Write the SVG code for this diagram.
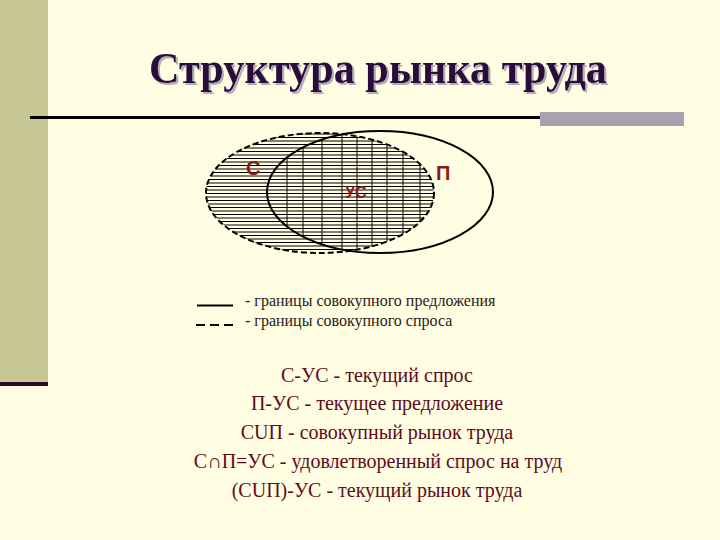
<svg xmlns="http://www.w3.org/2000/svg" width="720" height="540" viewBox="0 0 720 540">
<defs>
<style>
.title{font-family:"Liberation Serif","Times New Roman",serif;font-weight:bold;font-size:45px;text-anchor:middle;fill:#2a0a3a}
.lbl{font-family:"Liberation Sans",Arial,sans-serif;font-weight:bold;fill:#8b1a1a}
.leg{font-family:"Liberation Serif","Times New Roman",serif;font-size:16px;fill:#2a1a1a}
.def{font-family:"Liberation Serif","Times New Roman",serif;font-size:20px;fill:#5e0c1c;text-anchor:middle}
.hatch line{stroke:#000;stroke-width:1}
</style>
<filter id="shadow" x="-5%" y="-20%" width="110%" height="140%">
<feOffset in="SourceAlpha" dx="2" dy="2" result="off"/>
<feFlood flood-color="#b4acbc"/>
<feComposite in2="off" operator="in" result="sh"/>
<feMerge><feMergeNode in="sh"/><feMergeNode in="SourceGraphic"/></feMerge>
</filter>
<clipPath id="clipC"><ellipse cx="320" cy="193" rx="114" ry="60"/></clipPath>
<clipPath id="clipP"><ellipse cx="380" cy="192" rx="113" ry="61"/></clipPath>
</defs>
<rect x="0" y="0" width="720" height="540" fill="#fffde2"/>
<rect x="0" y="0" width="48" height="382" fill="#c8c896"/>
<rect x="0" y="382" width="48" height="4" fill="#2a0a28"/>
<text class="title" transform="translate(378,83) scale(0.94,1)" x="0" y="0" filter="url(#shadow)">Структура рынка труда</text>
<line x1="30" y1="117.5" x2="684" y2="117.5" stroke="#000" stroke-width="3"/>
<rect x="540" y="112" width="144" height="14" fill="#aaa0b0"/>
<g id="hatching">
<g class="hatch" clip-path="url(#clipC)">
<line x1="200" y1="134" x2="440" y2="134"/><line x1="200" y1="137.5" x2="440" y2="137.5"/><line x1="200" y1="141" x2="440" y2="141"/><line x1="200" y1="144.5" x2="440" y2="144.5"/><line x1="200" y1="148" x2="440" y2="148"/><line x1="200" y1="151.5" x2="440" y2="151.5"/><line x1="200" y1="155" x2="440" y2="155"/><line x1="200" y1="158.5" x2="440" y2="158.5"/><line x1="200" y1="162" x2="440" y2="162"/><line x1="200" y1="165.5" x2="440" y2="165.5"/><line x1="200" y1="169" x2="440" y2="169"/><line x1="200" y1="172.5" x2="440" y2="172.5"/><line x1="200" y1="176" x2="440" y2="176"/><line x1="200" y1="179.5" x2="440" y2="179.5"/><line x1="200" y1="183" x2="440" y2="183"/><line x1="200" y1="186.5" x2="440" y2="186.5"/><line x1="200" y1="190" x2="440" y2="190"/><line x1="200" y1="193.5" x2="440" y2="193.5"/><line x1="200" y1="197" x2="440" y2="197"/><line x1="200" y1="200.5" x2="440" y2="200.5"/><line x1="200" y1="204" x2="440" y2="204"/><line x1="200" y1="207.5" x2="440" y2="207.5"/><line x1="200" y1="211" x2="440" y2="211"/><line x1="200" y1="214.5" x2="440" y2="214.5"/><line x1="200" y1="218" x2="440" y2="218"/><line x1="200" y1="221.5" x2="440" y2="221.5"/><line x1="200" y1="225" x2="440" y2="225"/><line x1="200" y1="228.5" x2="440" y2="228.5"/><line x1="200" y1="232" x2="440" y2="232"/><line x1="200" y1="235.5" x2="440" y2="235.5"/><line x1="200" y1="239" x2="440" y2="239"/><line x1="200" y1="242.5" x2="440" y2="242.5"/><line x1="200" y1="246" x2="440" y2="246"/><line x1="200" y1="249.5" x2="440" y2="249.5"/>
<g clip-path="url(#clipP)">
<line x1="287" y1="120" x2="287" y2="260"/><line x1="303" y1="120" x2="303" y2="260"/><line x1="322" y1="120" x2="322" y2="260"/><line x1="342" y1="120" x2="342" y2="260"/><line x1="357" y1="120" x2="357" y2="260"/><line x1="372" y1="120" x2="372" y2="260"/><line x1="387" y1="120" x2="387" y2="260"/><line x1="403" y1="120" x2="403" y2="260"/><line x1="420" y1="120" x2="420" y2="260"/>
</g>
</g>
</g>
<g id="node-C">
<ellipse cx="320" cy="193" rx="114" ry="60" fill="none" stroke="#000" stroke-width="2" stroke-dasharray="6 3"/>
<text class="lbl" x="246" y="175" font-size="20">С</text>
</g>
<g id="node-P">
<ellipse cx="380" cy="192" rx="113" ry="61" fill="none" stroke="#000" stroke-width="2"/>
<text class="lbl" x="436" y="180" font-size="20">П</text>
</g>
<g id="node-US">
<text class="lbl" x="345" y="198" font-size="16">УС</text>
</g>
<g id="legend">
<line x1="197" y1="305.5" x2="233" y2="305.5" stroke="#000" stroke-width="2"/>
<line x1="196" y1="325" x2="233" y2="325" stroke="#000" stroke-width="2" stroke-dasharray="9 5"/>
<text class="leg" x="245" y="306">- границы совокупного предложения</text>
<text class="leg" x="245" y="326">- границы совокупного спроса</text>
</g>
<g id="definitions">
<text class="def" x="377" y="382">С-УС - текущий спрос</text>
<text class="def" x="377" y="410">П-УС - текущее предложение</text>
<text class="def" x="377" y="439">СUП - совокупный рынок труда</text>
<text class="def" x="378" y="468">С∩П=УС - удовлетворенный спрос на труд</text>
<text class="def" x="377" y="497">(СUП)-УС - текущий рынок труда</text>
</g>
</svg>
